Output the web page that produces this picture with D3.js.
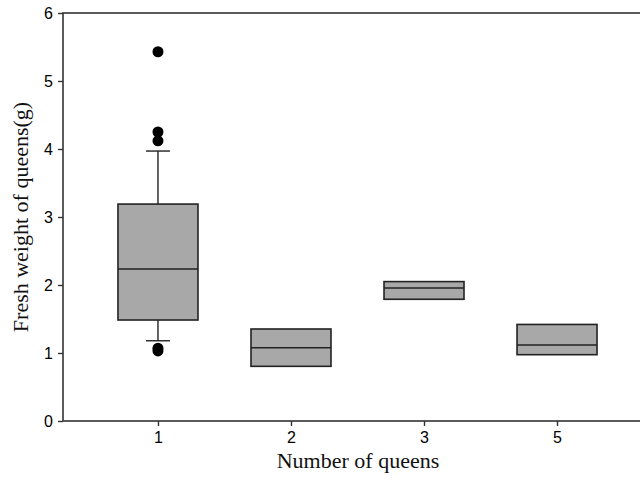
<!DOCTYPE html>
<html>
<head>
<meta charset="utf-8">
<script src="https://cdn.jsdelivr.net/npm/d3@7"></script>
<style>
  body { margin: 0; background: #fff; }
</style>
</head>
<body>
<div id="chart"></div>
<script>
// queens per colony
const groups = ["1", "2", "3", "5"]
const q1 = [1.485, 0.804, 1.79, 0.975]
const medians = [2.235, 1.078, 1.956, 1.118]
const q3 = [3.19, 1.353, 2.05, 1.42]
const whiskerLow = [1.18, null, null, null]
const whiskerHigh = [3.97, null, null, null]
const outlierGroup = ["1", "1", "1", "1", "1"]
const outlierValues = [5.43, 4.25, 4.12, 1.07, 1.03]
const yTicks = [0, 1, 2, 3, 4, 5, 6]

const dimensions = {
    width: 640,
    height: 479,
    margin: { top: 13, right: -12, bottom: 58, left: 63 }
}
dimensions.boundedWidth = dimensions.width - dimensions.margin.left - dimensions.margin.right
dimensions.boundedHeight = dimensions.height - dimensions.margin.top - dimensions.margin.bottom

const wrapper = d3.select("#chart")
    .append("svg")
        .attr("width", dimensions.width)
        .attr("height", dimensions.height)

const bounds = wrapper.append("g")
    .attr("transform", `translate(${dimensions.margin.left},${dimensions.margin.top})`)

const xScale = d3.scalePoint()
    .domain(groups)
    .range([0, dimensions.boundedWidth])
    .padding(0.714)

const yScale = d3.scaleLinear()
    .domain([0, 6])
    .range([dimensions.boundedHeight, 0])

const boxWidth = 80
const capHalf = 12
const stroke = "#222"

const data = groups.map((g, i) => ({
    g, q1: q1[i], med: medians[i], q3: q3[i], lo: whiskerLow[i], hi: whiskerHigh[i]
}))

// whiskers
const withWhiskers = data.filter(d => d.lo != null)
bounds.selectAll(".whisker")
    .data(withWhiskers.flatMap(d => [[d.g, d.q3, d.hi], [d.g, d.q1, d.lo]]))
    .join("line")
        .attr("x1", d => xScale(d[0]))
        .attr("x2", d => xScale(d[0]))
        .attr("y1", d => yScale(d[1]))
        .attr("y2", d => yScale(d[2]))
        .attr("stroke", stroke)
        .attr("stroke-width", 1.4)
bounds.selectAll(".cap")
    .data(withWhiskers.flatMap(d => [[d.g, d.hi], [d.g, d.lo]]))
    .join("line")
        .attr("x1", d => xScale(d[0]) - capHalf)
        .attr("x2", d => xScale(d[0]) + capHalf)
        .attr("y1", d => yScale(d[1]))
        .attr("y2", d => yScale(d[1]))
        .attr("stroke", stroke)
        .attr("stroke-width", 1.4)

// boxes
bounds.selectAll(".box")
    .data(data)
    .join("rect")
        .attr("x", d => xScale(d.g) - boxWidth / 2)
        .attr("width", boxWidth)
        .attr("y", d => yScale(d.q3))
        .attr("height", d => yScale(d.q1) - yScale(d.q3))
        .attr("fill", "#a8a8a8")
        .attr("stroke", stroke)
        .attr("stroke-width", 1.6)

bounds.selectAll(".median")
    .data(data)
    .join("line")
        .attr("x1", d => xScale(d.g) - boxWidth / 2)
        .attr("x2", d => xScale(d.g) + boxWidth / 2)
        .attr("y1", d => yScale(d.med))
        .attr("y2", d => yScale(d.med))
        .attr("stroke", stroke)
        .attr("stroke-width", 1.6)

// outliers
bounds.selectAll(".outlier")
    .data(outlierValues)
    .join("circle")
        .attr("cx", (d, i) => xScale(outlierGroup[i]))
        .attr("cy", d => yScale(d))
        .attr("r", 5.5)
        .attr("fill", "#000")

// frame
bounds.append("rect")
    .attr("width", dimensions.boundedWidth)
    .attr("height", dimensions.boundedHeight)
    .attr("fill", "none")
    .attr("stroke", "#333")
    .attr("stroke-width", 1.6)

const yAxis = bounds.append("g")
    .call(d3.axisLeft(yScale).tickValues(yTicks).tickSize(5).tickPadding(5).tickFormat(d3.format("d")))
yAxis.select(".domain").remove()

const xAxis = bounds.append("g")
    .attr("transform", `translate(0,${dimensions.boundedHeight})`)
    .call(d3.axisBottom(xScale).tickSize(5).tickPadding(6))
xAxis.select(".domain").remove()

bounds.selectAll(".tick line").attr("stroke", "#333").attr("stroke-width", 1.4)
bounds.selectAll(".tick text")
    .attr("fill", "#000")
    .style("font-family", "Liberation Sans, Arial, sans-serif")
    .style("font-size", "16px")

wrapper.append("text")
    .attr("x", 358)
    .attr("y", 468)
    .attr("text-anchor", "middle")
    .style("font-family", "Liberation Serif, Times New Roman, serif")
    .style("font-size", "22px")
    .attr("fill", "#111")
    .text("Number of queens")

wrapper.append("text")
    .attr("transform", "translate(28,217) rotate(-90)")
    .attr("text-anchor", "middle")
    .style("font-family", "Liberation Serif, Times New Roman, serif")
    .style("font-size", "22px")
    .attr("fill", "#111")
    .text("Fresh weight of queens(g)")
</script>
</body>
</html>
